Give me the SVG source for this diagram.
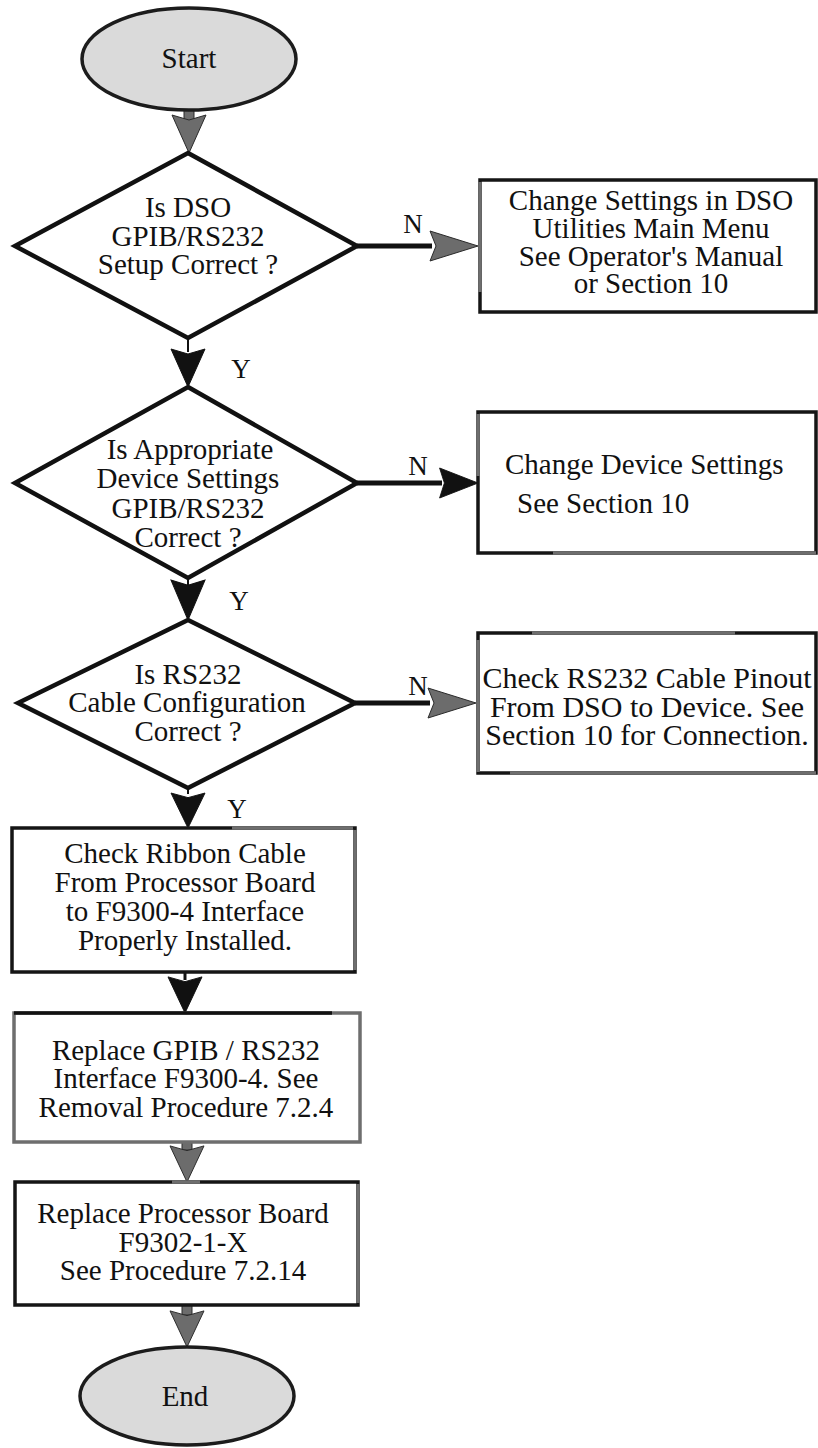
<svg xmlns="http://www.w3.org/2000/svg" xmlns:xlink="http://www.w3.org/1999/xlink" width="818" height="1448" viewBox="0 0 818 1448">
<style>
.bg{fill:#ffffff}
.term{fill:#dadada;stroke:#1c1c1c;stroke-width:3.5}
.dia{fill:#ffffff;stroke:#111111;stroke-width:4.5;stroke-linejoin:miter}
.box{fill:#ffffff;stroke:#151515;stroke-width:3.5}
.gedge{fill:none;stroke:#6e6e6e;stroke-width:3.5}
.t{font-family:"Liberation Serif","Times New Roman",serif;font-size:29px;fill:#111111;text-anchor:middle}
.tb{font-family:"Liberation Serif","Times New Roman",serif;font-size:29px;fill:#111111;text-anchor:middle}
.lbl{font-family:"Liberation Serif","Times New Roman",serif;font-size:27px;fill:#111111;text-anchor:middle}
.hk{fill:#111111;stroke:#111111;stroke-width:1}
.hg{fill:#6c6c6c;stroke:#2a2a2a;stroke-width:1}
.line{stroke:#111111;stroke-width:5;fill:none}
.shaftg{fill:#6c6c6c;stroke:#2a2a2a;stroke-width:1}
</style>
<defs>
<path id="headD" d="M0,0 L-17,-38 L0,-33 L17,-38 Z"/>
<path id="headR" d="M0,0 L-48,-15 L-42,0 L-48,15 Z"/>
</defs>
<rect class="bg" x="0" y="0" width="818" height="1448"/>

<g id="connectors">
  <!-- Start -> D1 -->
  <rect class="shaftg" x="184" y="108" width="10" height="16"/>
  <use xlink:href="#headD" class="hg" transform="translate(189,153)"/>
  <!-- D1 -> D2 (Y) -->
  <line class="line" x1="188" y1="338" x2="188" y2="352" style="stroke-width:2"/>
  <use xlink:href="#headD" class="hk" transform="translate(188,387)"/>
  <!-- D2 -> D3 (Y) -->
  <line class="line" x1="188" y1="578" x2="188" y2="586" style="stroke-width:2"/>
  <use xlink:href="#headD" class="hk" transform="translate(188,620) scale(1,1.05)"/>
  <!-- D3 -> B4 (Y) -->
  <line class="line" x1="188" y1="788" x2="188" y2="794" style="stroke-width:2"/>
  <use xlink:href="#headD" class="hk" transform="translate(188,828) scale(1,0.92)"/>
  <!-- B4 -> B5 -->
  <line class="line" x1="185" y1="972" x2="185" y2="980" style="stroke-width:3"/>
  <use xlink:href="#headD" class="hk" transform="translate(185,1013) scale(1,0.95)"/>
  <!-- B5 -> B6 -->
  <rect class="shaftg" x="182" y="1142" width="10" height="8"/>
  <use xlink:href="#headD" class="hg" transform="translate(187,1182) scale(1,0.95)"/>
  <!-- B6 -> End -->
  <rect class="shaftg" x="182" y="1305" width="10" height="10"/>
  <use xlink:href="#headD" class="hg" transform="translate(187,1347) scale(1,0.95)"/>
  <!-- D1 -> B1 (N) -->
  <line class="line" x1="357" y1="246" x2="432" y2="246"/>
  <use xlink:href="#headR" class="hg" transform="translate(478,246)"/>
  <!-- D2 -> B2 (N) -->
  <line class="line" x1="357" y1="483" x2="442" y2="483"/>
  <use xlink:href="#headR" class="hk" transform="translate(478,483) scale(0.8,1)"/>
  <!-- D3 -> B3 (N) -->
  <line class="line" x1="355" y1="703" x2="430" y2="703"/>
  <use xlink:href="#headR" class="hg" transform="translate(476,703)"/>
  <!-- labels -->
  <text class="lbl" x="413" y="233">N</text>
  <text class="lbl" x="241" y="378">Y</text>
  <text class="lbl" x="418" y="475">N</text>
  <text class="lbl" x="239" y="610">Y</text>
  <text class="lbl" x="418" y="695">N</text>
  <text class="lbl" x="237" y="818">Y</text>
</g>

<g id="start">
  <ellipse class="term" cx="189" cy="59" rx="107" ry="51"/>
  <text class="t" x="189" y="68">Start</text>
</g>

<g id="d1">
  <polygon class="dia" points="188,153 357,246 188,338 15,246"/>
  <text class="t" x="188" y="217">Is DSO</text>
  <text class="t" x="188" y="246">GPIB/RS232</text>
  <text class="t" x="188" y="274">Setup Correct ?</text>
</g>

<g id="b1">
  <rect class="box" x="480" y="180" width="336" height="132"/>
  <path class="gedge" d="M480,182 V292"/>
  <text class="tb" x="651" y="210">Change Settings in DSO</text>
  <text class="tb" x="651" y="238">Utilities Main Menu</text>
  <text class="tb" x="651" y="266">See Operator's Manual</text>
  <text class="tb" x="651" y="293">or Section 10</text>
</g>

<g id="d2">
  <polygon class="dia" points="188,387 357,483 188,578 15,483"/>
  <text class="t" x="190" y="459">Is Appropriate</text>
  <text class="t" x="188" y="488">Device Settings</text>
  <text class="t" x="188" y="518">GPIB/RS232</text>
  <text class="t" x="188" y="547">Correct ?</text>
</g>

<g id="b2">
  <rect class="box" x="478" y="412" width="338" height="141"/>
  <path class="gedge" d="M478,414 V476 M553,553 H816"/>
  <text class="tb" x="505" y="474" style="text-anchor:start">Change Device Settings</text>
  <text class="tb" x="517" y="513" style="text-anchor:start">See Section 10</text>
</g>

<g id="d3">
  <polygon class="dia" points="188,620 355,703 188,788 18,703"/>
  <text class="t" x="188" y="684">Is RS232</text>
  <text class="t" x="187" y="712">Cable Configuration</text>
  <text class="t" x="188" y="741">Correct ?</text>
</g>

<g id="b3">
  <rect class="box" x="478" y="633" width="338" height="140"/>
  <path class="gedge" d="M478,640 V772 M532,633 H735 M510,773 H816"/>
  <text class="tb" x="647" y="688" style="font-size:30px">Check RS232 Cable Pinout</text>
  <text class="tb" x="647" y="717" style="font-size:30px">From DSO to Device. See</text>
  <text class="tb" x="647" y="745" style="font-size:30px">Section 10 for Connection.</text>
</g>

<g id="b4">
  <rect class="box" x="12" y="828" width="343" height="144"/>
  <path class="gedge" d="M232,828 H353 M355,830 V970"/>
  <text class="tb" x="185" y="863">Check Ribbon Cable</text>
  <text class="tb" x="185" y="892">From Processor Board</text>
  <text class="tb" x="185" y="921">to F9300-4 Interface</text>
  <text class="tb" x="185" y="950">Properly Installed.</text>
</g>

<g id="b5">
  <rect class="box" x="14" y="1013" width="346" height="129" style="stroke:#6e6e6e"/>
  <path d="M14,1013 H332" style="stroke:#111;stroke-width:3.5;fill:none"/>
  <text class="tb" x="186" y="1060">Replace GPIB / RS232</text>
  <text class="tb" x="186" y="1088">Interface F9300-4. See</text>
  <text class="tb" x="186" y="1117">Removal Procedure 7.2.4</text>
</g>

<g id="b6">
  <rect class="box" x="15" y="1182" width="343" height="123"/>
  <path class="gedge" d="M172,1182 H200 M358,1184 V1303"/>
  <text class="tb" x="183" y="1223">Replace Processor Board</text>
  <text class="tb" x="183" y="1252">F9302-1-X</text>
  <text class="tb" x="183" y="1280">See Procedure 7.2.14</text>
</g>

<g id="end">
  <ellipse class="term" cx="187" cy="1396" rx="107" ry="49"/>
  <text class="t" x="185" y="1406">End</text>
</g>
</svg>
